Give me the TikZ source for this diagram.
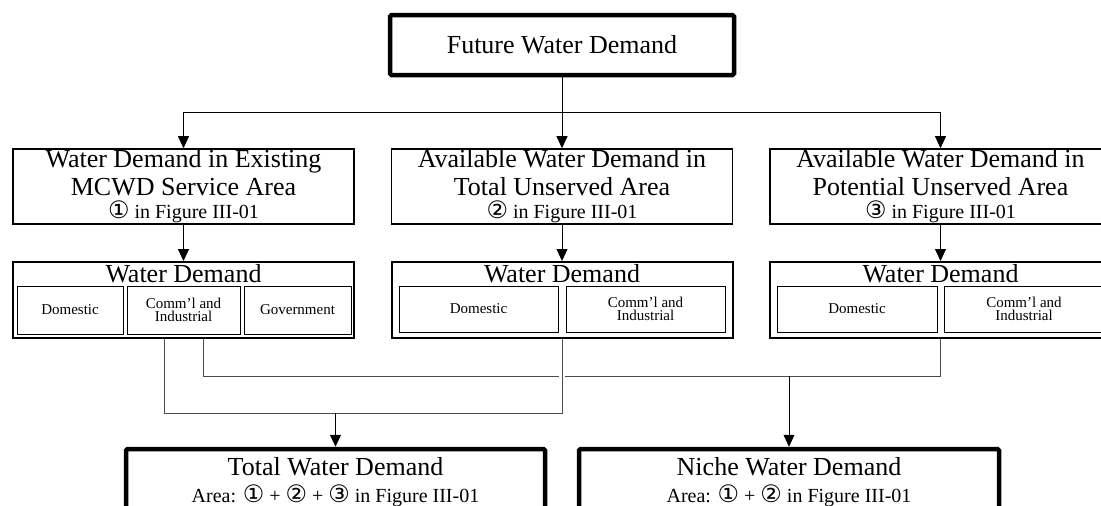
\documentclass[tikz,border=0pt]{standalone}
\usepackage{fontspec}
\usepackage{graphicx}
\setmainfont{Liberation Serif}
\newfontfamily\circfont{DejaVu Sans}
\usetikzlibrary{arrows.meta}
\newcommand{\cnum}[1]{\scalebox{1.2}{\circfont #1}}

\begin{document}
\begin{tikzpicture}[x=1pt,y=-1pt,
  thickbox/.style={draw, line width=4.5pt, rounded corners=1.5pt, inner sep=0pt},
  areabox/.style={draw, line width=1.6pt, minimum width=341pt, minimum height=75pt, inner sep=0pt, align=center, font=\fontsize{26}{28}\selectfont},
  wdbox/.style={draw, line width=2pt, minimum width=341pt, minimum height=76pt, inner sep=0pt},
  subbox/.style={draw, line width=0.9pt, inner sep=0pt, align=center, font=\fontsize{15}{13}\selectfont},
  title/.style={anchor=base, inner sep=0pt, font=\fontsize{26}{28}\selectfont},
  note/.style={anchor=base, inner sep=0pt, font=\fontsize{20}{22}\selectfont},
  link/.style={draw, black!70, line width=0.8pt},
  arr/.style={draw, line width=0.8pt, -{Triangle[width=11pt,length=12pt]}}]
\useasboundingbox (0,0) rectangle (1101,506);
\clip (0,0) rectangle (1101,506);

% top
\node[thickbox, minimum width=344pt, minimum height=60pt, font=\fontsize{26}{28}\selectfont] (future) at (562,45) {Future Water Demand};

% service areas
\node[areabox] (exist) at (183.5,186.5) {Water Demand in Existing\\MCWD Service Area\\[-5pt]{\fontsize{20}{22}\selectfont\cnum{①} in Figure III-01}};
\node[areabox] (unserved) at (562,186.5) {Available Water Demand in\\Total Unserved Area\\[-5pt]{\fontsize{20}{22}\selectfont\cnum{②} in Figure III-01}};
\node[areabox] (potential) at (940.5,186.5) {Available Water Demand in\\Potential Unserved Area\\[-5pt]{\fontsize{20}{22}\selectfont\cnum{③} in Figure III-01}};

% water demand groups
\node[wdbox] (wdA) at (183.5,300) {};
\node[wdbox] (wdB) at (562,300) {};
\node[wdbox] (wdC) at (940.5,300) {};
\node[title] (wdAt) at (183.5,282) {Water Demand};
\node[title] (wdBt) at (562,282) {Water Demand};
\node[title] (wdCt) at (940.5,282) {Water Demand};
\node[subbox, minimum width=106pt, minimum height=48pt] (domA) at (70,310) {Domestic};
\node[subbox, minimum width=113pt, minimum height=48pt] (comA) at (183.5,310) {Comm'l and\\Industrial};
\node[subbox, minimum width=107pt, minimum height=48pt] (govA) at (297.5,310) {Government};
\node[subbox, minimum width=159pt, minimum height=46pt] (domB) at (478.5,309) {Domestic};
\node[subbox, minimum width=159pt, minimum height=46pt] (comB) at (645.5,309) {Comm'l and\\Industrial};
\node[subbox, minimum width=160pt, minimum height=46pt] (domC) at (857,309) {Domestic};
\node[subbox, minimum width=160pt, minimum height=46pt] (comC) at (1024,309) {Comm'l and\\Industrial};

% results
\node[thickbox, minimum width=419pt, minimum height=100pt] (total) at (335.5,499) {};
\node[thickbox, minimum width=420pt, minimum height=100pt] (niche) at (789,499) {};
\node[title] (totalt) at (335.5,475) {Total Water Demand};
\node[note] (totaln) at (335.5,502) {Area: \cnum{①} + \cnum{②} + \cnum{③} in Figure III-01};
\node[title] (nichet) at (789,475) {Niche Water Demand};
\node[note] (nichen) at (789,502) {Area: \cnum{①} + \cnum{②} in Figure III-01};

% connectors
\coordinate (split) at (562,112);
\coordinate (jA) at (164,413);
\coordinate (jB) at (203,376);
\draw[arr] (future) -- (unserved);
\draw[arr] (split) -| (exist.north);
\draw[arr] (split) -| (potential.north);
\draw[arr] (exist) -- (wdA);
\draw[arr] (unserved) -- (wdB);
\draw[arr] (potential) -- (wdC);
\draw[link] (wdA.south -| jB) |- (wdC.south |- jB) -- (wdC.south);
\draw[white, line width=6pt] ([yshift=-4pt]wdB.south |- jB) -- ([yshift=4pt]wdB.south |- jB);
\draw[link] (wdA.south -| jA) |- (wdB.south |- jA) -- (wdB.south);
\draw[arr] (total.north |- jA) -- (total.north);
\draw[arr] (niche.north |- jB) -- (niche.north);
\end{tikzpicture}
\end{document}
